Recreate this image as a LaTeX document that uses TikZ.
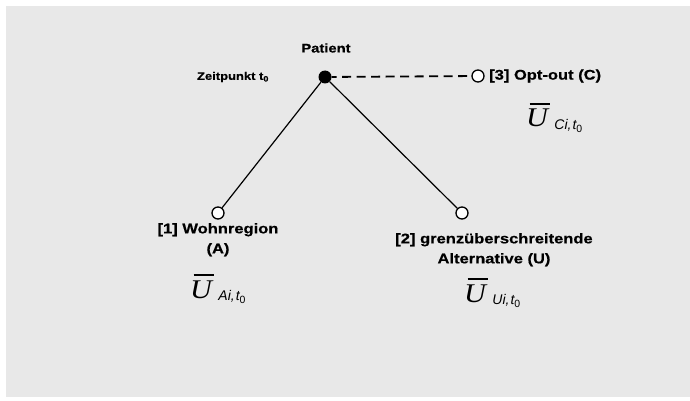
\documentclass[tikz,border=0pt]{standalone}
\usepackage{fontspec}
\setmainfont{Liberation Sans}[FakeStretch=1.18, BoldFeatures={FakeBold=0.5}]
\newfontfamily\serifU{Liberation Serif}[FakeStretch=1.12]
\newfontfamily\sansS{Liberation Sans}
\definecolor{bg}{HTML}{E8E8E8}
\newcommand\utilsym[1]{%
  {\serifU\mdseries\itshape\fontsize{27}{27}\selectfont
   \setbox0\hbox{U}\vbox{\offinterlineskip\moveright3.5pt\hbox{\vrule height 1.6pt depth 0pt width 0.95\wd0}\kern4.5pt\box0}}%
  \kern4pt\raisebox{-2pt}{\sansS\itshape\fontsize{14}{14}\selectfont #1i,\kern1pt t\raisebox{-3pt}{\upshape\fontsize{10.5}{10.5}\selectfont 0}}}
\tikzset{
  lbl/.style={font=\bfseries\fontsize{14}{20}\selectfont, inner sep=0pt, align=center},
  leaf/.style={circle, draw=black, fill=white, line width=1.3pt, minimum size=12pt, inner sep=0pt},
  rootdot/.style={circle, fill=black, minimum size=13pt, inner sep=0pt},
  branch/.style={line width=1.2pt, black},
  optline/.style={line width=1.8pt, black, dash pattern=on 9pt off 5.5pt, dash phase=4pt},
  util/.style={inner sep=0pt, anchor=base west}
}
\begin{document}
\begin{tikzpicture}[x=1pt, y=-1pt]
\useasboundingbox (0,0) rectangle (690,401);
\fill[white] (0,0) rectangle (690,401);
\fill[bg] (6,6) rectangle (690,397);

\node[rootdot] (root) at (325,77) {};
\node[leaf] (cC) at (478,76) {};
\node[leaf] (cA) at (218,213) {};
\node[leaf] (cU) at (462,213) {};

\draw[branch] (root) -- (cA);
\draw[branch] (root) -- (cU);
\draw[optline] (root) -- (cC);

\node[lbl, font=\bfseries\fontsize{12.5}{15}\selectfont] (patient) at (326,48) {Patient};
\node[lbl, font=\bfseries\fontsize{11}{13}\selectfont] (zeit) at (233,77) {Zeitpunkt t\textsubscript{0}};
\node[lbl, anchor=west] (optC) at (489,76) {[3] Opt-out (C)};
\node[lbl, anchor=north] (labA) at (218,223) {[1] Wohnregion\\(A)};
\node[lbl, anchor=north] (labU) at (494,233) {[2] grenzüberschreitende\\Alternative (U)};

\node[util] (uC) at (526,127) {\utilsym{C}};
\node[util] (uA) at (190,298) {\utilsym{A}};
\node[util] (uU) at (464,302) {\utilsym{U}};
\end{tikzpicture}
\end{document}
